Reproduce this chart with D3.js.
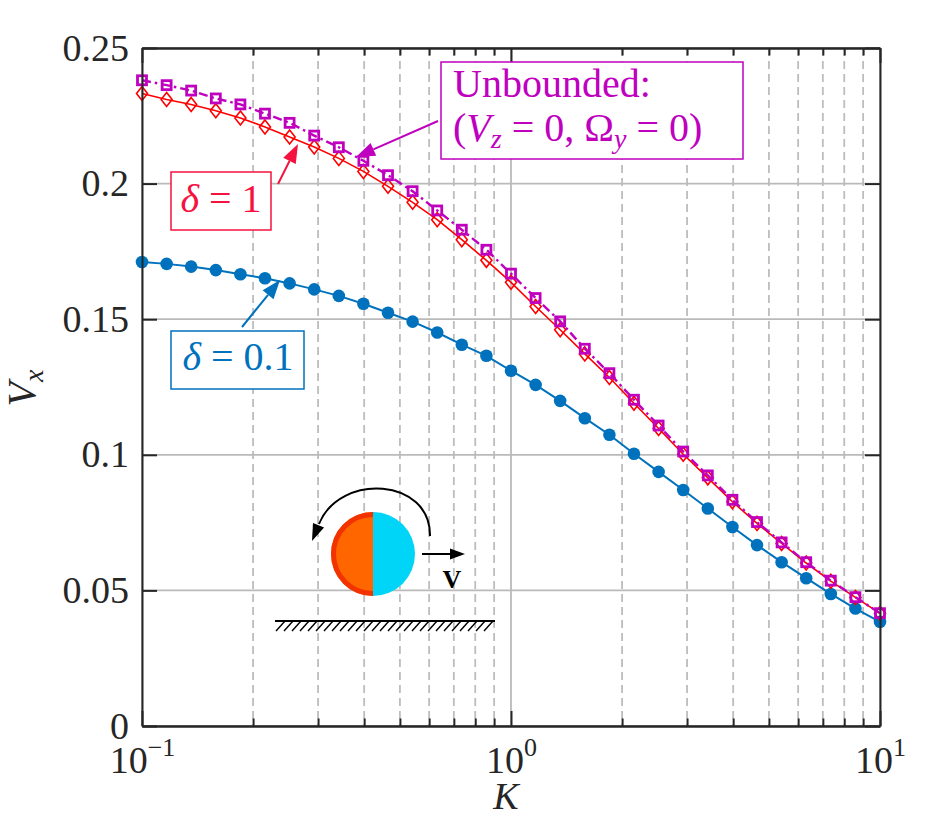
<!DOCTYPE html>
<html>
<head>
<meta charset="utf-8">
<script src="https://cdn.jsdelivr.net/npm/d3@7"></script>
<style>
    body { margin: 0; background: #fff; }
    text { font-family: "Liberation Serif", "DejaVu Serif", serif; }
</style>
</head>
<body>
<div id="chart"></div>
<script>

// Data (31 log-spaced kappa values)
var kappa = [0.1, 0.1166, 0.1359, 0.1585, 0.1848, 0.2154, 0.2512, 0.2929, 0.3415, 0.3981,
    0.4642, 0.5412, 0.6310, 0.7356, 0.8577, 1, 1.166, 1.359, 1.585, 1.848,
    2.154, 2.512, 2.929, 3.415, 3.981, 4.642, 5.412, 6.310, 7.356, 8.577, 10];

var vxDelta01 = [0.1711, 0.1704, 0.1694, 0.1681, 0.1666, 0.1651, 0.1632, 0.1610, 0.1586, 0.1557,
    0.1524, 0.1491, 0.1451, 0.1406, 0.1365, 0.1310, 0.1258, 0.1199, 0.1135, 0.1074,
    0.1004, 0.0937, 0.0870, 0.0802, 0.0734, 0.0667, 0.0604, 0.0545, 0.0487, 0.0433, 0.0384];

var vxDelta1 = [0.2332, 0.2310, 0.2292, 0.2269, 0.2242, 0.2209, 0.2172, 0.2135, 0.2093, 0.2045,
    0.1990, 0.1931, 0.1867, 0.1793, 0.1717, 0.1636, 0.1547, 0.1461, 0.1372, 0.1285,
    0.1190, 0.1097, 0.1002, 0.0915, 0.0827, 0.0747, 0.0673, 0.0601, 0.0534, 0.0474, 0.0415];

var vxUnbounded = [0.2381, 0.2363, 0.2343, 0.2314, 0.2292, 0.2258, 0.2224, 0.2177, 0.2134, 0.2084,
    0.2031, 0.1972, 0.1901, 0.1830, 0.1756, 0.1668, 0.1578, 0.1492, 0.1391, 0.1301,
    0.1203, 0.1108, 0.1012, 0.0924, 0.0834, 0.0752, 0.0677, 0.0604, 0.0536, 0.0475, 0.0416];

var yTicks = [0, 0.05, 0.1, 0.15, 0.2, 0.25];
var yTickLabels = ["0", "0.05", "0.1", "0.15", "0.2", "0.25"];
var xTicks = [0.1, 1, 10];
var xTickExponents = ["\u22121", "0", "1"];
var xMinorTicks = [0.2, 0.3, 0.4, 0.5, 0.6, 0.7, 0.8, 0.9, 2, 3, 4, 5, 6, 7, 8, 9];


VxPlot = function(_parentElement){
    var vis = this;
    vis.parentElement = _parentElement;
    vis.initVis();
};

VxPlot.prototype.initVis = function(){
    var vis = this;

    vis.margin = { top: 48, right: 50, bottom: 91, left: 142 };
    vis.width = 930 - vis.margin.left - vis.margin.right;
    vis.height = 817 - vis.margin.top - vis.margin.bottom;

    vis.root = d3.select("#" + vis.parentElement).append("svg")
        .attr("width", 930)
        .attr("height", 817);

    vis.svg = vis.root.append("g")
        .attr("transform", "translate(" + vis.margin.left + "," + vis.margin.top + ")");

    vis.x = d3.scaleLog()
        .domain([0.1, 10])
        .range([0, vis.width]);

    vis.y = d3.scaleLinear()
        .domain([0, 0.25])
        .range([vis.height, 0]);

    vis.data = kappa.map(function(k, i){
        return { k: k, d01: vxDelta01[i], d1: vxDelta1[i], unb: vxUnbounded[i] };
    });

    vis.drawGrid();
    vis.updateVis();
    vis.drawAxes();
    vis.drawAnnotations();
};

VxPlot.prototype.drawGrid = function(){
    var vis = this;
    var grid = vis.svg.append("g").attr("class", "grid");

    // minor (dashed) vertical grid
    grid.selectAll(".minor").data(xMinorTicks).enter().append("line")
        .attr("x1", function(d){ return vis.x(d); })
        .attr("x2", function(d){ return vis.x(d); })
        .attr("y1", 0).attr("y2", vis.height)
        .style("stroke", "#bdbdbd")
        .style("stroke-width", 1.8)
        .style("stroke-dasharray", "8,5");

    grid.selectAll(".majorx").data(xTicks).enter().append("line")
        .attr("x1", function(d){ return vis.x(d); })
        .attr("x2", function(d){ return vis.x(d); })
        .attr("y1", 0).attr("y2", vis.height)
        .style("stroke", "#bababa")
        .style("stroke-width", 1.8);

    grid.selectAll(".majory").data(yTicks).enter().append("line")
        .attr("x1", 0).attr("x2", vis.width)
        .attr("y1", function(d){ return vis.y(d); })
        .attr("y2", function(d){ return vis.y(d); })
        .style("stroke", "#bababa")
        .style("stroke-width", 1.8);
};

VxPlot.prototype.updateVis = function(){
    var vis = this;

    var series = [
        { key: "d01", color: "#0072BD", width: 2, dash: null },
        { key: "d1", color: "#FF0000", width: 1.6, dash: null },
        { key: "unb", color: "#BF00BF", width: 2.4, dash: "9,4,2.5,4" }
    ];

    series.forEach(function(s){
        var line = d3.line()
            .x(function(d){ return vis.x(d.k); })
            .y(function(d){ return vis.y(d[s.key]); });

        vis.svg.append("path")
            .datum(vis.data)
            .attr("d", line)
            .style("fill", "none")
            .style("stroke", s.color)
            .style("stroke-width", s.width)
            .style("stroke-dasharray", s.dash);

        if(s.key === "d01"){
            vis.svg.selectAll(".dot").data(vis.data).enter().append("circle")
                .attr("class", "dot")
                .attr("cx", function(d){ return vis.x(d.k); })
                .attr("cy", function(d){ return vis.y(d.d01); })
                .attr("r", 6.3)
                .style("fill", s.color);
        }
        else if(s.key === "d1"){
            vis.svg.selectAll(".diamond").data(vis.data).enter().append("path")
                .attr("class", "diamond")
                .attr("transform", function(d){ return "translate(" + vis.x(d.k) + "," + vis.y(d.d1) + ")"; })
                .attr("d", "M0,-7L5.5,0L0,7L-5.5,0Z")
                .style("fill", "none")
                .style("stroke", s.color)
                .style("stroke-width", 1.6);
        }
        else {
            vis.svg.selectAll(".square").data(vis.data).enter().append("rect")
                .attr("class", "square")
                .attr("x", function(d){ return vis.x(d.k) - 4.5; })
                .attr("y", function(d){ return vis.y(d.unb) - 4.5; })
                .attr("width", 9)
                .attr("height", 9)
                .style("fill", "none")
                .style("stroke", s.color)
                .style("stroke-width", 2.8);
        }
    });
};

VxPlot.prototype.drawAxes = function(){
    var vis = this;
    var axisColor = "#262626";

    function style(g){
        g.attr("font-family", null);
        g.select(".domain").style("stroke", axisColor).style("stroke-width", 2);
        g.selectAll(".tick line").style("stroke", axisColor).style("stroke-width", 2);
    }

    // bottom major with labels
    var bottom = vis.svg.append("g")
        .attr("transform", "translate(0," + vis.height + ")")
        .call(d3.axisBottom(vis.x).tickValues(xTicks).tickSizeInner(-15).tickSizeOuter(0).tickFormat(""))
        .call(style);

    bottom.selectAll(".tick text")
        .attr("y", 47).attr("dy", 0)
        .style("font-size", "38px")
        .style("fill", axisColor)
        .each(function(d, i){
            var t = d3.select(this);
            t.append("tspan").text("10");
            t.append("tspan").attr("dy", -17).style("font-size", "26px").text(xTickExponents[i]);
        });

    vis.svg.append("g")
        .attr("transform", "translate(0," + vis.height + ")")
        .call(d3.axisBottom(vis.x).tickValues(xMinorTicks).tickSizeInner(-7.5).tickSizeOuter(0).tickFormat(""))
        .call(style);

    vis.svg.append("g")
        .call(d3.axisTop(vis.x).tickValues(xTicks).tickSizeInner(-15).tickSizeOuter(0).tickFormat(""))
        .call(style);

    vis.svg.append("g")
        .call(d3.axisTop(vis.x).tickValues(xMinorTicks).tickSizeInner(-7.5).tickSizeOuter(0).tickFormat(""))
        .call(style);

    var left = vis.svg.append("g")
        .call(d3.axisLeft(vis.y).tickValues(yTicks).tickSizeInner(-15).tickSizeOuter(0).tickPadding(13)
            .tickFormat(function(d, i){ return yTickLabels[i]; }))
        .call(style);

    left.selectAll(".tick text")
        .style("font-size", "38px")
        .style("fill", axisColor);

    vis.svg.append("g")
        .attr("transform", "translate(" + vis.width + ",0)")
        .call(d3.axisRight(vis.y).tickValues(yTicks).tickSizeInner(-15).tickSizeOuter(0).tickFormat(""))
        .call(style);

    // axis labels
    vis.root.append("text")
        .attr("x", 506)
        .attr("y", 809)
        .attr("text-anchor", "middle")
        .style("font-size", "38px")
        .style("font-style", "italic")
        .style("fill", axisColor)
        .text("K");

    var ylab = vis.root.append("text")
        .attr("transform", "translate(35,388) rotate(-90)")
        .attr("text-anchor", "middle")
        .style("font-size", "40px")
        .style("font-style", "italic")
        .style("fill", axisColor);
    ylab.append("tspan").text("V");
    ylab.append("tspan").attr("dy", 8).style("font-size", "28px").text("x");
};

VxPlot.prototype.drawAnnotations = function(){
    var vis = this;
    var g = vis.root.append("g").attr("class", "annotations");

    function arrow(x1, y1, x2, y2, color, headLen, headW, lw){
        var dx = x2 - x1, dy = y2 - y1;
        var len = Math.sqrt(dx * dx + dy * dy);
        var ux = dx / len, uy = dy / len;
        var bx = x2 - ux * headLen, by = y2 - uy * headLen;
        g.append("line")
            .attr("x1", x1).attr("y1", y1).attr("x2", bx).attr("y2", by)
            .style("stroke", color).style("stroke-width", lw);
        g.append("path")
            .attr("d", "M" + x2 + "," + y2 +
                "L" + (bx - uy * headW / 2) + "," + (by + ux * headW / 2) +
                "L" + (bx + uy * headW / 2) + "," + (by - ux * headW / 2) + "Z")
            .style("fill", color);
    }

    function box(x, y, w, h, color){
        g.append("rect")
            .attr("x", x).attr("y", y).attr("width", w).attr("height", h)
            .style("fill", "#fff")
            .style("stroke", color)
            .style("stroke-width", 1.5);
    }

    // Unbounded
    var mag = "#BF00BF";
    arrow(438, 121, 356, 157, mag, 19, 14, 2);
    box(441, 62, 302, 97, mag);
    g.append("text").attr("x", 453).attr("y", 97)
        .style("font-size", "40px").style("fill", mag).text("Unbounded:");
    var t2 = g.append("text").attr("x", 453).attr("y", 141)
        .style("font-size", "40px").style("fill", mag);
    t2.append("tspan").text("(");
    t2.append("tspan").style("font-style", "italic").text("V");
    t2.append("tspan").attr("dy", 7).style("font-style", "italic").style("font-size", "28px").text("z");
    t2.append("tspan").attr("dy", -7).text(" = 0, \u03A9");
    t2.append("tspan").attr("dy", 7).style("font-style", "italic").style("font-size", "28px").text("y");
    t2.append("tspan").attr("dy", -7).text(" = 0)");

    // delta = 1
    var red = "#F5123F";
    arrow(278, 184, 298, 144, red, 19, 14, 2);
    box(171, 172, 100, 58, red);
    var t3 = g.append("text").attr("x", 221).attr("y", 212).attr("text-anchor", "middle")
        .style("font-size", "40px").style("fill", red);
    t3.append("tspan").style("font-style", "italic").text("\u03B4");
    t3.append("tspan").text(" = 1");

    // delta = 0.1
    var blue = "#0072BD";
    arrow(242, 327, 280, 280, blue, 19, 14, 2);
    box(171, 331, 133, 58, blue);
    var t4 = g.append("text").attr("x", 238).attr("y", 370).attr("text-anchor", "middle")
        .style("font-size", "40px").style("fill", blue);
    t4.append("tspan").style("font-style", "italic").text("\u03B4");
    t4.append("tspan").text(" = 0.1");

    // schematic of the Janus particle near a wall
    var cx = 373, cy = 554, r = 42;
    g.append("path")
        .attr("d", "M" + cx + "," + (cy - r) + "A" + r + "," + r + " 0 0,1 " + cx + "," + (cy + r) + "Z")
        .style("fill", "#00D5F7");
    g.append("path")
        .attr("d", "M" + cx + "," + (cy - r) + "A" + r + "," + r + " 0 0,0 " + cx + "," + (cy + r) + "Z")
        .style("fill", "#FF6600");
    g.append("path")
        .attr("d", "M" + cx + "," + (cy - r + 2.5) + "A" + (r - 2.5) + "," + (r - 2.5) + " 0 0,0 " + cx + "," + (cy + r - 2.5))
        .style("fill", "none")
        .style("stroke", "#F23300")
        .style("stroke-width", 5);

    // rotation arrow
    g.append("path")
        .attr("d", "M430,536 C431,478 340,472 319,524")
        .style("fill", "none")
        .style("stroke", "#000")
        .style("stroke-width", 2);
    arrow(319.5, 523, 312, 541, "#000", 17, 12, 0);

    // velocity arrow
    arrow(422, 554, 465, 554, "#000", 15, 11, 2);
    g.append("text").attr("x", 452).attr("y", 588).attr("text-anchor", "middle")
        .style("font-size", "26px").style("font-weight", "bold").text("V");

    // wall with hatching
    g.append("line").attr("x1", 275).attr("x2", 495).attr("y1", 621).attr("y2", 621)
        .style("stroke", "#000").style("stroke-width", 2);
    var hatches = d3.range(285, 496, 8);
    g.selectAll(".hatch").data(hatches).enter().append("line")
        .attr("x1", function(d){ return d; })
        .attr("y1", 621)
        .attr("x2", function(d){ return d - 9; })
        .attr("y2", 631)
        .style("stroke", "#000")
        .style("stroke-width", 1.4);
};

var plot = new VxPlot("chart");

</script>
</body>
</html>
